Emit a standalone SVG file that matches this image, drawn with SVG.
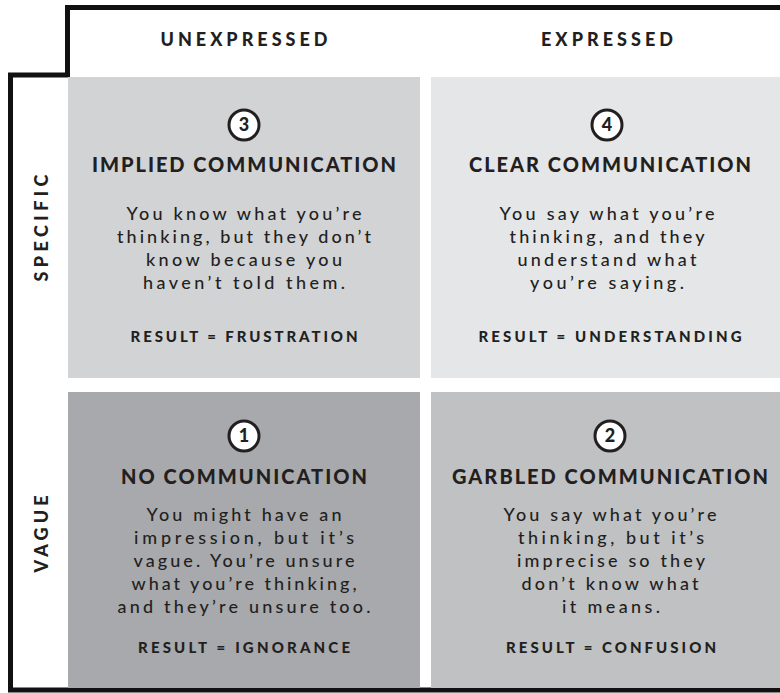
<svg xmlns="http://www.w3.org/2000/svg" width="780" height="693" viewBox="0 0 780 693">
<style>
text{font-family:Lato,"Open Sans","Liberation Sans",sans-serif;fill:#231f20;text-anchor:middle}
.hdr{font-size:18px;font-weight:900}
.ttl{font-size:20px;font-weight:900}
.body{font-size:18px;font-weight:500}
.res{font-size:15px;font-weight:900}
.num{font-size:18px;font-weight:900}
.badge{fill:#fff;stroke:#231f20;stroke-width:3}
</style>
<rect width="780" height="693" fill="#fff"/>
<g id="frame">
<path d="M782 7.5 H67.5 V75 H10.5 V690 H782" fill="none" stroke="#111" stroke-width="5"/>
</g>
<g id="headers">
<text class="hdr" x="244" y="46" textLength="167" lengthAdjust="spacing">UNEXPRESSED</text>
<text class="hdr" x="607" y="46" textLength="132" lengthAdjust="spacing">EXPRESSED</text>
<text class="hdr" transform="translate(48 228) rotate(-90)" textLength="107" lengthAdjust="spacing">SPECIFIC</text>
<text class="hdr" transform="translate(48 534) rotate(-90)" textLength="77" lengthAdjust="spacing">VAGUE</text>
</g>
<g id="q3">
<rect x="68" y="77" width="352" height="301" fill="#d1d3d5"/>
<circle class="badge" cx="244" cy="125" r="15"/>
<text class="num" x="244" y="131">3</text>
<text class="ttl" x="244" y="172" textLength="304" lengthAdjust="spacing">IMPLIED COMMUNICATION</text>
<text class="body" x="244" y="220" textLength="235" lengthAdjust="spacing">You know what you’re</text>
<text class="body" x="244" y="243" textLength="254" lengthAdjust="spacing">thinking, but they don’t</text>
<text class="body" x="244" y="266" textLength="196" lengthAdjust="spacing">know because you</text>
<text class="body" x="244" y="289" textLength="202" lengthAdjust="spacing">haven’t told them.</text>
<text class="res" x="244" y="342" textLength="227" lengthAdjust="spacing">RESULT = FRUSTRATION</text>
</g>
<g id="q4">
<rect x="431" y="77" width="349" height="301" fill="#e5e6e8"/>
<circle class="badge" cx="607" cy="125" r="15"/>
<text class="num" x="607" y="131">4</text>
<text class="ttl" x="610" y="172" textLength="282" lengthAdjust="spacing">CLEAR COMMUNICATION</text>
<text class="body" x="607" y="220" textLength="215" lengthAdjust="spacing">You say what you’re</text>
<text class="body" x="607" y="243" textLength="195" lengthAdjust="spacing">thinking, and they</text>
<text class="body" x="607" y="266" textLength="179" lengthAdjust="spacing">understand what</text>
<text class="body" x="607" y="289" textLength="154" lengthAdjust="spacing">you’re saying.</text>
<text class="res" x="610" y="342" textLength="263" lengthAdjust="spacing">RESULT = UNDERSTANDING</text>
</g>
<g id="q1">
<rect x="68" y="392" width="352" height="296" fill="#a7a9ac"/>
<circle class="badge" cx="244" cy="436" r="15"/>
<text class="num" x="244" y="442">1</text>
<text class="ttl" x="244" y="484" textLength="246" lengthAdjust="spacing">NO COMMUNICATION</text>
<text class="body" x="244" y="521" textLength="195" lengthAdjust="spacing">You might have an</text>
<text class="body" x="244" y="544" textLength="220" lengthAdjust="spacing">impression, but it’s</text>
<text class="body" x="244" y="567" textLength="221" lengthAdjust="spacing">vague. You’re unsure</text>
<text class="body" x="244" y="590" textLength="225" lengthAdjust="spacing">what you’re thinking,</text>
<text class="body" x="244" y="613" textLength="253" lengthAdjust="spacing">and they’re unsure too.</text>
<text class="res" x="244" y="653" textLength="212" lengthAdjust="spacing">RESULT = IGNORANCE</text>
</g>
<g id="q2">
<rect x="431" y="392" width="349" height="296" fill="#bfc1c3"/>
<circle class="badge" cx="610" cy="436" r="15"/>
<text class="num" x="610" y="442">2</text>
<text class="ttl" x="610" y="484" textLength="316" lengthAdjust="spacing">GARBLED COMMUNICATION</text>
<text class="body" x="610" y="521" textLength="213" lengthAdjust="spacing">You say what you’re</text>
<text class="body" x="611" y="544" textLength="186" lengthAdjust="spacing">thinking, but it’s</text>
<text class="body" x="611" y="567" textLength="188" lengthAdjust="spacing">imprecise so they</text>
<text class="body" x="610" y="590" textLength="177" lengthAdjust="spacing">don’t know what</text>
<text class="body" x="611" y="613" textLength="98" lengthAdjust="spacing">it means.</text>
<text class="res" x="611" y="653" textLength="210" lengthAdjust="spacing">RESULT = CONFUSION</text>
</g>
</svg>
